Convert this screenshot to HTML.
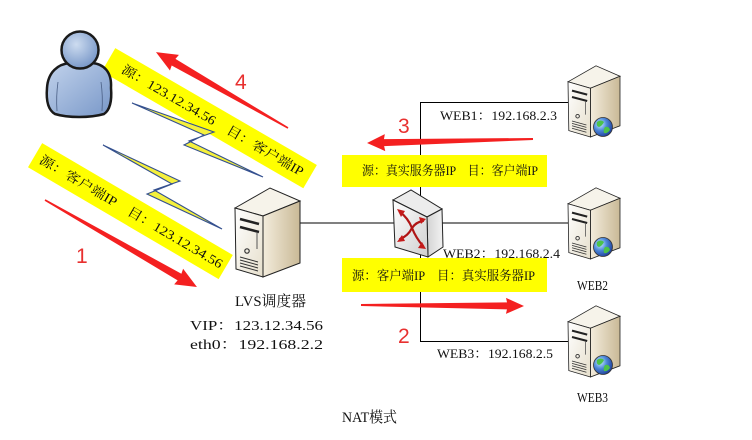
<!DOCTYPE html>
<html>
<head>
<meta charset="utf-8">
<style>
html,body{margin:0;padding:0;background:#fff;}
svg{display:block;}
text{font-family:"Liberation Serif","Noto Serif CJK SC",serif;fill:#111;}
.num{font-family:"Liberation Sans",sans-serif;fill:#e8302f;}
</style>
</head>
<body>
<svg width="752" height="440" viewBox="0 0 752 440" xmlns="http://www.w3.org/2000/svg">
<defs>
  <radialGradient id="headG" cx="0.4" cy="0.35" r="0.7">
    <stop offset="0" stop-color="#cddcf0"/>
    <stop offset="1" stop-color="#7494c6"/>
  </radialGradient>
  <linearGradient id="bodyG" x1="0" y1="0" x2="1" y2="1">
    <stop offset="0" stop-color="#c2d3ec"/>
    <stop offset="1" stop-color="#7897c8"/>
  </linearGradient>
  <linearGradient id="frontG" x1="0" y1="0" x2="1" y2="1">
    <stop offset="0" stop-color="#ffffff"/>
    <stop offset="1" stop-color="#e6dfcc"/>
  </linearGradient>
  <linearGradient id="sideG" x1="0" y1="0" x2="1" y2="0">
    <stop offset="0" stop-color="#f3ecdc"/>
    <stop offset="1" stop-color="#c9b996"/>
  </linearGradient>
  <linearGradient id="swFront" x1="0" y1="0" x2="1" y2="1">
    <stop offset="0" stop-color="#ffffff"/>
    <stop offset="1" stop-color="#cfcfcf"/>
  </linearGradient>
  <linearGradient id="swSide" x1="0" y1="0" x2="1" y2="0">
    <stop offset="0" stop-color="#d4d4d4"/>
    <stop offset="1" stop-color="#f2f2f2"/>
  </linearGradient>
  <radialGradient id="globeG" cx="0.35" cy="0.35" r="0.7">
    <stop offset="0" stop-color="#c8f0ff"/>
    <stop offset="0.5" stop-color="#4b86d8"/>
    <stop offset="1" stop-color="#1f3f98"/>
  </radialGradient>
  <g id="srv">
    <polygon points="0,21 35,1 65,14 28,29" fill="#f6f3ea" stroke="#222" stroke-width="1"/>
    <polygon points="28,29 65,14 65,76 28,90" fill="url(#sideG)" stroke="#222" stroke-width="1"/>
    <polygon points="0,21 28,29 28,90 1,82" fill="url(#frontG)" stroke="#222" stroke-width="1"/>
    <line x1="5" y1="32" x2="24" y2="37" stroke="#222" stroke-width="2.5"/>
    <line x1="5" y1="40" x2="24" y2="45" stroke="#222" stroke-width="2.5"/>
    <line x1="22" y1="45" x2="22" y2="62" stroke="#555" stroke-width="1"/>
    <circle cx="12" cy="64" r="2.2" fill="none" stroke="#333" stroke-width="1.2"/>
    <line x1="5" y1="70" x2="23" y2="75" stroke="#333" stroke-width="1"/>
    <line x1="5" y1="73" x2="23" y2="78" stroke="#333" stroke-width="1"/>
    <line x1="5" y1="76" x2="23" y2="81" stroke="#333" stroke-width="1"/>
    <line x1="5" y1="79" x2="23" y2="84" stroke="#333" stroke-width="1"/>
  </g>
  <g id="globe">
    <circle cx="0" cy="0" r="9.5" fill="url(#globeG)" stroke="#333" stroke-width="0.8"/>
    <path d="M-6,-5 Q-2,-8 1,-5 Q-1,-1 -4,0 Q-7,-1 -6,-5 Z" fill="#4cc24a"/>
    <path d="M2,0 Q6,-1 7,3 Q4,7 1,6 Q0,3 2,0 Z" fill="#4cc24a"/>
  </g>
</defs>

<!-- connector lines -->
<line x1="420.5" y1="102.5" x2="420.5" y2="341.5" stroke="#000" stroke-width="1"/>
<line x1="420" y1="102.5" x2="569" y2="102.5" stroke="#000" stroke-width="1"/>
<line x1="420" y1="341.5" x2="569" y2="341.5" stroke="#000" stroke-width="1"/>
<line x1="299" y1="223" x2="569" y2="223" stroke="#000" stroke-width="1"/>

<!-- yellow bands (rotated) -->
<g transform="translate(209.3,118.2) rotate(30.1)">
  <rect x="-116.5" y="-13.5" width="233" height="27" fill="#ffff00"/>
  <text x="-100" y="4.5" font-size="13" textLength="208" lengthAdjust="spacingAndGlyphs">源：123.12.34.56　目：客户端IP</text>
</g>
<g transform="translate(130.4,211.1) rotate(30.4)">
  <rect x="-110.5" y="-14" width="221" height="28" fill="#ffff00"/>
  <text x="-104" y="4.5" font-size="13" textLength="210" lengthAdjust="spacingAndGlyphs">源：客户端IP　目：123.12.34.56</text>
</g>

<!-- person -->
<path d="M55,114 C48,110 46,100 47,88 C48,72 58,64 70,63 L92,63 C104,64 112,72 111,88 C112,100 110,110 104,114 C90,118 68,118 55,114 Z" fill="url(#bodyG)" stroke="#1a1a1a" stroke-width="2.5"/>
<path d="M58,82 Q56,96 57,111" fill="none" stroke="#4a5f85" stroke-width="0.8"/>
<path d="M101,82 Q103,96 102,111" fill="none" stroke="#4a5f85" stroke-width="0.8"/>
<circle cx="80" cy="50" r="18.5" fill="url(#headG)" stroke="#1a1a1a" stroke-width="2.5"/>

<!-- lightning bolts -->
<polygon points="132,103 214,132 189,141 263,177 184,145 204,135" fill="#f5f03c" stroke="#34508f" stroke-width="1.1" stroke-linejoin="miter"/>
<polygon points="103,145 180,181 154,190 222,229 147,194 172,184" fill="#f5f03c" stroke="#34508f" stroke-width="1.1" stroke-linejoin="miter"/>

<!-- red arrows -->
<g transform="translate(288,128) rotate(209.9)">
  <polygon points="0,-0.8 132,-3.8 131,-9 152.3,0 131,9 132,3.8 0,0.8" fill="#f42020"/>
</g>
<g transform="translate(45,200) rotate(29.8)">
  <polygon points="0,-0.8 155,-3.8 154,-9 175.1,0 154,9 155,3.8 0,0.8" fill="#f42020"/>
</g>
<g transform="translate(533,139) rotate(178.6)">
  <polygon points="0,-1 149,-3.5 148,-8.5 166,0 148,8.5 149,3.5 0,1" fill="#f42020"/>
</g>
<g transform="translate(361,305) rotate(0.35)">
  <polygon points="0,-1 146,-3.5 145,-8 163,0 145,8 146,3.5 0,1" fill="#f42020"/>
</g>

<!-- numbers -->
<text class="num" x="235" y="89" font-size="21">4</text>
<text class="num" x="76" y="263" font-size="21">1</text>
<text class="num" x="398" y="133" font-size="21">3</text>
<text class="num" x="398" y="343" font-size="21">2</text>

<!-- yellow boxes -->
<rect x="342" y="155" width="205" height="32" fill="#ffff00"/>
<text x="362" y="175" font-size="13" textLength="176" lengthAdjust="spacingAndGlyphs">源：真实服务器IP　目：客户端IP</text>
<rect x="342" y="258" width="205" height="34" fill="#ffff00"/>
<text x="352" y="280" font-size="13" textLength="183" lengthAdjust="spacingAndGlyphs">源：客户端IP　目：真实服务器IP</text>

<!-- LVS server -->
<use href="#srv" transform="translate(235,187)"/>

<!-- switch -->
<polygon points="393,200 411,190 442,209 427,217" fill="#ececec" stroke="#222" stroke-width="1"/>
<polygon points="427,217 442,209 443,247 428,257" fill="url(#swSide)" stroke="#222" stroke-width="1"/>
<polygon points="393,200 427,217 428,257 395,247" fill="url(#swFront)" stroke="#222" stroke-width="1"/>
<g stroke="#b01515" stroke-width="2.2" fill="none" stroke-linecap="round">
  <path d="M400,212 Q408,218 412,228 Q416,238 423,246"/>
  <path d="M400,239 Q408,236 412,228 Q416,222 423,221"/>
</g>
<g fill="#c41a1a">
  <polygon points="397,209 405,211 401,217"/>
  <polygon points="397,242 402,235 405,241"/>
  <polygon points="426,219 419,217 421,224"/>
  <polygon points="426,249 418,248 422,242"/>
</g>

<!-- web servers -->
<use href="#srv" transform="translate(568,65) scale(0.8,0.8)"/>
<use href="#globe" transform="translate(603,127)"/>
<use href="#srv" transform="translate(568,187) scale(0.8,0.8)"/>
<use href="#globe" transform="translate(603,247)"/>
<use href="#srv" transform="translate(568,305) scale(0.8,0.8)"/>
<use href="#globe" transform="translate(603,365)"/>

<!-- labels -->
<text x="440" y="120" font-size="13" textLength="117" lengthAdjust="spacingAndGlyphs">WEB1：192.168.2.3</text>
<text x="443" y="258" font-size="13" textLength="117" lengthAdjust="spacingAndGlyphs">WEB2：192.168.2.4</text>
<text x="437" y="358" font-size="13" textLength="116" lengthAdjust="spacingAndGlyphs">WEB3：192.168.2.5</text>
<text x="235" y="306" font-size="15" textLength="71" lengthAdjust="spacingAndGlyphs">LVS调度器</text>
<text x="190" y="330" font-size="14" textLength="133" lengthAdjust="spacingAndGlyphs">VIP：123.12.34.56</text>
<text x="190" y="349" font-size="14" textLength="133" lengthAdjust="spacingAndGlyphs">eth0：192.168.2.2</text>
<text x="577" y="290" font-size="14" textLength="31" lengthAdjust="spacingAndGlyphs">WEB2</text>
<text x="577" y="402" font-size="14" textLength="31" lengthAdjust="spacingAndGlyphs">WEB3</text>
<text x="342" y="422" font-size="15" textLength="55" lengthAdjust="spacingAndGlyphs">NAT模式</text>
</svg>
</body>
</html>
